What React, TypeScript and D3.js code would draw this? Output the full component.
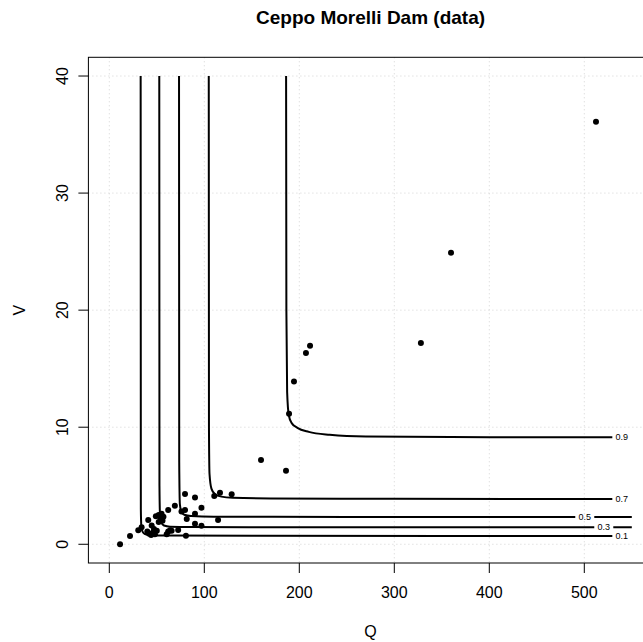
import React from "react";
import * as d3 from "d3";

// ---- data ----
const title = "Ceppo Morelli Dam (data)";
const xLabel = "Q";
const yLabel = "V";
const xTicks = [0, 100, 200, 300, 400, 500];
const yTicks = [0, 10, 20, 30, 40];

// observed points (Q, V)
const obsQ = [11.3, 21.8, 30.5, 34, 41, 44.6, 40, 42, 44, 46, 47, 48, 50, 49, 52, 54, 55, 57, 52, 56,
  60.4, 62, 64, 65.6, 62, 69, 72.5, 76, 79.7, 79.7, 80.7, 81.5, 90.2, 90.2, 90.2, 97, 97, 114.5, 110.5, 116.5,
  128.8, 159.7, 186, 189.2, 194.4, 207, 211.3, 328, 359.7, 512.3];
const obsV = [0.0, 0.7, 1.2, 1.45, 2.08, 1.6, 1.1, 0.9, 0.8, 1.0, 1.3, 0.85, 1.15, 2.4, 2.5, 2.2, 2.6, 2.35, 1.9, 2.0,
  0.85, 1.1, 1.2, 1.15, 2.93, 3.3, 1.22, 2.8, 2.93, 4.3, 0.72, 2.15, 4.0, 2.6, 1.75, 3.12, 1.58, 2.08, 4.13, 4.4,
  4.27, 7.2, 6.27, 11.15, 13.9, 16.35, 16.95, 17.2, 24.9, 36.1];

// contour levels and traced points along each contour (Q, V)
const levels = ["0.1", "0.3", "0.5", "0.7", "0.9"];
const levelLabelQ = [539.5, 520.5, 500.5, 539.5, 539.5];
const contour01Q = [33.0, 33.2, 33.7, 35.0, 37.5, 43, 60, 150, 550];
const contour01V = [40, 3, 1.6, 1.08, 0.88, 0.78, 0.74, 0.72, 0.71];
const contour03Q = [52.6, 52.8, 53.4, 54.8, 57.5, 64, 85, 200, 550];
const contour03V = [40, 5, 2.5, 1.85, 1.6, 1.5, 1.47, 1.455, 1.45];
const contour05Q = [73.4, 73.6, 74.3, 76, 79, 86, 110, 250, 550];
const contour05V = [40, 7, 3.4, 2.75, 2.52, 2.41, 2.36, 2.34, 2.33];
const contour07Q = [104.7, 104.9, 105.5, 107.5, 111, 118, 130, 170, 300, 550];
const contour07V = [40, 10, 6, 4.75, 4.3, 4.07, 3.98, 3.92, 3.89, 3.87];
const contour09Q = [186.1, 186.4, 187.2, 189, 192, 198, 210, 232, 270, 400, 550];
const contour09V = [40, 20, 13, 11.0, 10.35, 9.95, 9.6, 9.35, 9.2, 9.15, 9.14];

const contourQ = [contour01Q, contour03Q, contour05Q, contour07Q, contour09Q];
const contourV = [contour01V, contour03V, contour05V, contour07V, contour09V];

export default function App() {
  const W = 643;
  const H = 642;
  const left = 88.4, right = 652.7, top = 57.3, bottom = 563;
  const x = d3.scaleLinear().domain([-22, 572]).range([left, right]);
  const y = d3.scaleLinear().domain([-1.6, 41.6]).range([bottom, top]);

  const line = d3
    .line<[number, number]>()
    .x((d) => x(d[0]))
    .y((d) => y(d[1]))
    .curve(d3.curveMonotoneX);

  const font = "'Liberation Sans', Arial, Helvetica, sans-serif";

  const contours = levels.map((lv, i) => {
    const pts = contourQ[i].map((q, j) => [q, contourV[i][j]] as [number, number]);
    const lq = levelLabelQ[i];
    const qs = contourQ[i];
    const vs = contourV[i];
    let lv2 = vs[vs.length - 1];
    for (let j = 0; j < qs.length - 1; j++) {
      if (lq >= qs[j] && lq <= qs[j + 1]) {
        const t = (lq - qs[j]) / (qs[j + 1] - qs[j]);
        lv2 = vs[j] + t * (vs[j + 1] - vs[j]);
      }
    }
    const lx = x(lq);
    const atEnd = lq > 530;
    return {
      lv,
      d: line(pts) as string,
      lx,
      ly: y(lv2),
      gapL: lx - 9.5,
      gapR: atEnd ? x(qs[qs.length - 1]) + 3 : lx + 9.5,
    };
  });

  return (
    <svg
      width={W}
      height={H}
      style={{ position: "absolute", left: 0, top: 0, background: "#fff" }}
      fontFamily={font}
    >
      <defs>
        <mask id="gapmask" maskUnits="userSpaceOnUse" x={0} y={0} width={W} height={H}>
          <rect x={0} y={0} width={W} height={H} fill="#fff" />
          {contours.map((c, i) => (
            <rect key={i} x={c.gapL} y={c.ly - 4} width={c.gapR - c.gapL} height={8} fill="#000" />
          ))}
        </mask>
        <clipPath id="plotclip">
          <rect x={left} y={top} width={right - left} height={bottom - top} />
        </clipPath>
      </defs>
      <rect x={0} y={0} width={W} height={H} fill="#fff" />

      {/* grid */}
      <g stroke="#d3d3d3" strokeWidth={1} strokeDasharray="1,3">
        {xTicks.map((t) => (
          <line key={"gx" + t} x1={x(t)} x2={x(t)} y1={top} y2={bottom} />
        ))}
        {yTicks.map((t) => (
          <line key={"gy" + t} x1={left} x2={right} y1={y(t)} y2={y(t)} />
        ))}
      </g>

      {/* contours */}
      <g clipPath="url(#plotclip)">
        <g mask="url(#gapmask)">
          {contours.map((c) => (
            <path key={c.lv} d={c.d} fill="none" stroke="#000" strokeWidth={2} />
          ))}
        </g>
      </g>
      {contours.map((c) => (
        <text
          key={"l" + c.lv}
          x={c.lx}
          y={c.ly + 3.2}
          fontSize={9}
          textAnchor="middle"
          fill="#000"
        >
          {c.lv}
        </text>
      ))}

      {/* points */}
      <g fill="#000">
        {obsQ.map((q, i) => (
          <circle key={i} cx={x(q)} cy={y(obsV[i])} r={3} />
        ))}
      </g>

      {/* box */}
      <rect x={left} y={top} width={right - left} height={bottom - top} fill="none" stroke="#000" strokeWidth={1} />

      {/* x axis */}
      <g>
        {xTicks.map((t) => (
          <g key={"xt" + t}>
            <line x1={x(t)} x2={x(t)} y1={bottom} y2={bottom + 10} stroke="#000" />
            <text x={x(t)} y={598.3} fontSize={16} textAnchor="middle">
              {t}
            </text>
          </g>
        ))}
      </g>
      {/* y axis */}
      <g>
        {yTicks.map((t) => (
          <g key={"yt" + t}>
            <line x1={left - 10} x2={left} y1={y(t)} y2={y(t)} stroke="#000" />
            <text
              transform={`translate(68,${y(t)}) rotate(-90)`}
              fontSize={16}
              textAnchor="middle"
            >
              {t}
            </text>
          </g>
        ))}
      </g>

      <text x={(left + right) / 2} y={636.5} fontSize={16} textAnchor="middle">
        {xLabel}
      </text>
      <text transform={`translate(25,${(top + bottom) / 2}) rotate(-90)`} fontSize={16} textAnchor="middle">
        {yLabel}
      </text>
      <text x={(left + right) / 2} y={24} fontSize={19} fontWeight="bold" textAnchor="middle">
        {title}
      </text>
    </svg>
  );
}
